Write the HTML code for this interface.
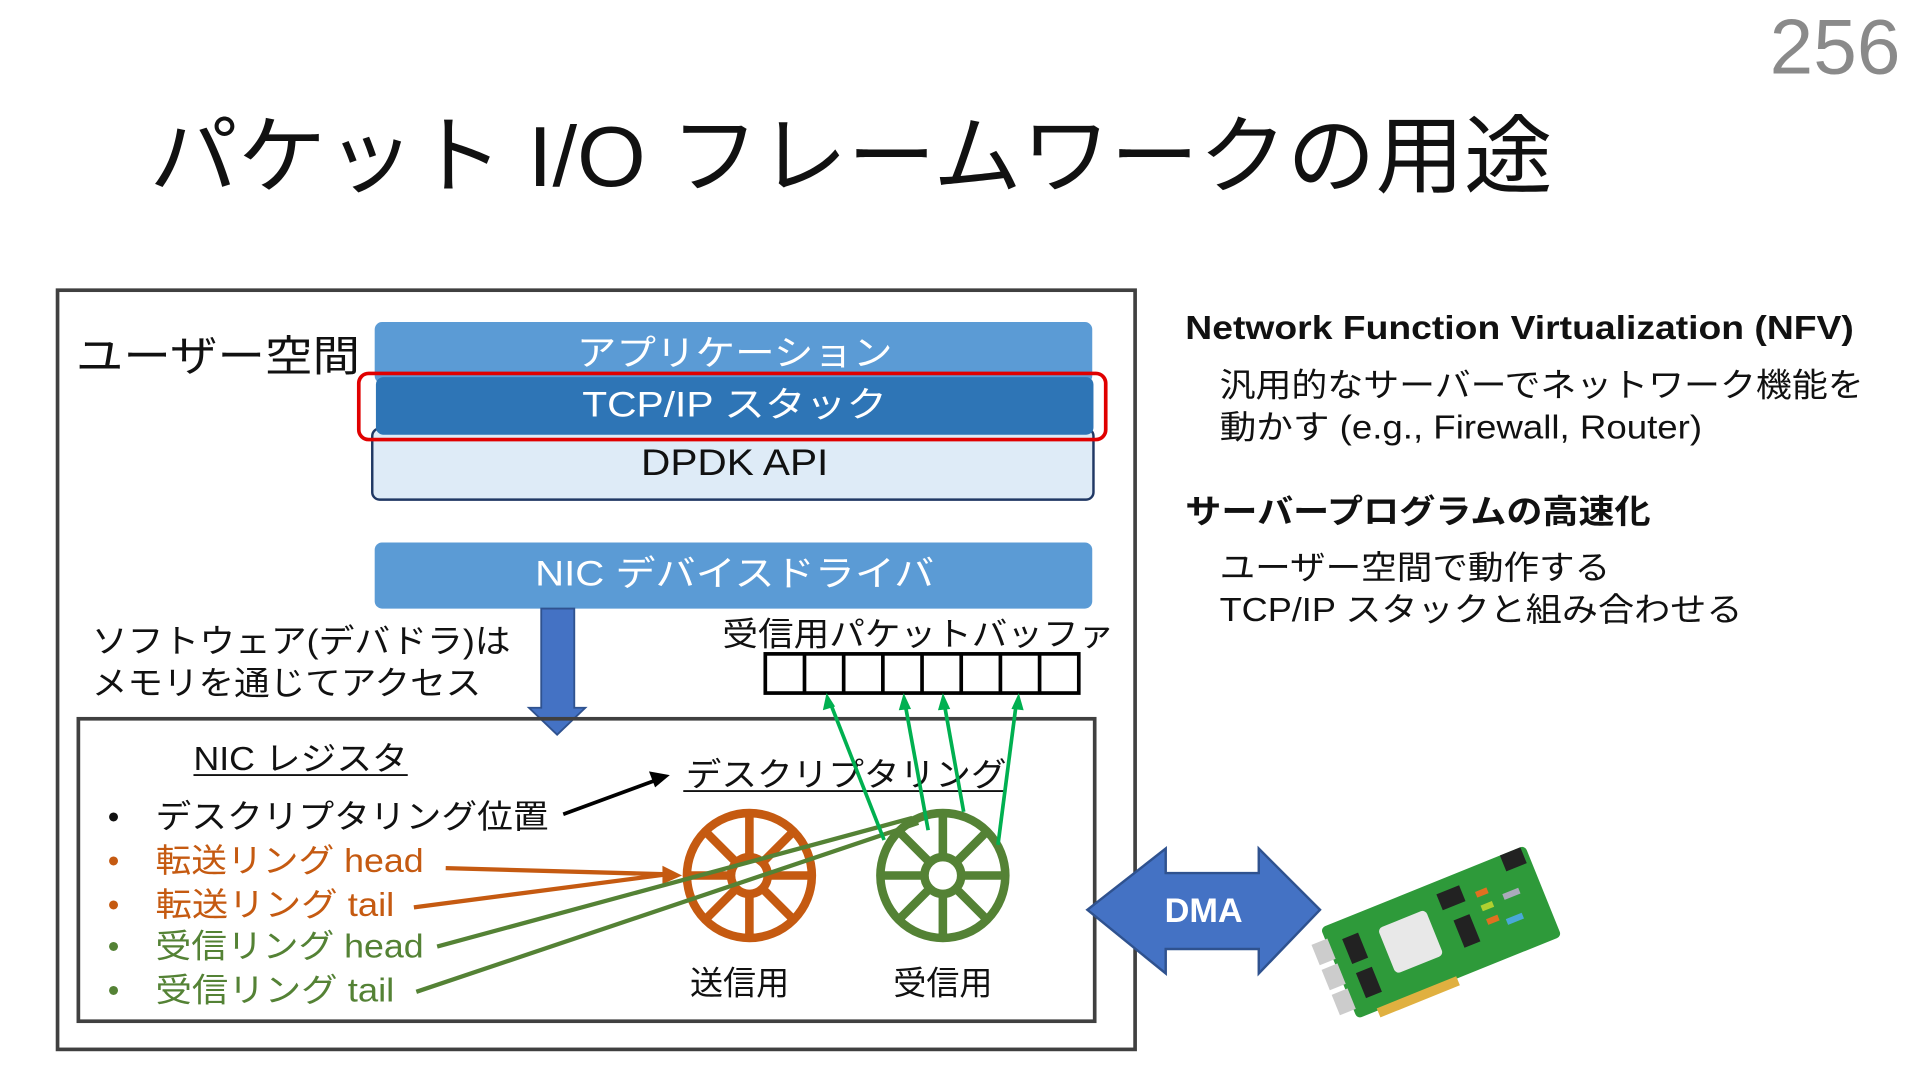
<!DOCTYPE html>
<html><head><meta charset="utf-8"><style>
html,body{margin:0;padding:0;background:#fff;}
svg{display:block;}
text{font-family:"Liberation Sans","Noto Sans CJK JP",sans-serif;}
</style></head><body>
<svg width="1920" height="1080" viewBox="0 0 1568 882" xmlns="http://www.w3.org/2000/svg">
<rect width="1568" height="882" fill="#fff"/>
<text x="1552" y="60" font-size="64" fill="#8a8a8a" text-anchor="end">256</text>
<text x="122" y="152" font-size="70" fill="#111" textLength="1146" lengthAdjust="spacingAndGlyphs">パケット I/O フレームワークの用途</text>

<rect x="47" y="237" width="880" height="620" fill="none" stroke="#404040" stroke-width="3"/>
<text x="62" y="303" font-size="35" fill="#111" textLength="232" lengthAdjust="spacingAndGlyphs">ユーザー空間</text>

<rect x="306" y="263" width="586" height="50" rx="6" fill="#5b9bd5"/>
<text x="600" y="298" font-size="29" fill="#fff" text-anchor="middle" textLength="258" lengthAdjust="spacingAndGlyphs">アプリケーション</text>
<rect x="304" y="350" width="589" height="58" rx="6" fill="#deebf7" stroke="#203864" stroke-width="2"/>
<rect x="307" y="308" width="586" height="47" rx="6" fill="#2e75b6"/>
<text x="600" y="340" font-size="29" fill="#fff" text-anchor="middle" textLength="249" lengthAdjust="spacingAndGlyphs">TCP/IP スタック</text>
<rect x="293" y="305" width="610" height="54" rx="8" fill="none" stroke="#e00000" stroke-width="3"/>
<text x="600" y="388" font-size="30" fill="#111" text-anchor="middle" textLength="153" lengthAdjust="spacingAndGlyphs">DPDK API</text>

<rect x="306" y="443" width="586" height="54" rx="6" fill="#5b9bd5"/>
<text x="600" y="478" font-size="29" fill="#fff" text-anchor="middle" textLength="326" lengthAdjust="spacingAndGlyphs">NIC デバイスドライバ</text>

<polygon points="442,497 469,497 469,578 478,578 455,600 432,578 442,578" fill="#4472c4" stroke="#2f528f" stroke-width="1.5"/>

<text x="75" y="533" font-size="27" fill="#111" textLength="342" lengthAdjust="spacingAndGlyphs">ソフトウェア(デバドラ)は</text>
<text x="75" y="567" font-size="27" fill="#111" textLength="318" lengthAdjust="spacingAndGlyphs">メモリを通じてアクセス</text>
<text x="590" y="527" font-size="27" fill="#111" textLength="320" lengthAdjust="spacingAndGlyphs">受信用パケットバッファ</text>

<g fill="none" stroke="#000" stroke-width="3">
<rect x="625" y="534" width="256" height="32"/>
<line x1="657" y1="534" x2="657" y2="566"/><line x1="689" y1="534" x2="689" y2="566"/>
<line x1="721" y1="534" x2="721" y2="566"/><line x1="753" y1="534" x2="753" y2="566"/>
<line x1="785" y1="534" x2="785" y2="566"/><line x1="817" y1="534" x2="817" y2="566"/>
<line x1="849" y1="534" x2="849" y2="566"/>
</g>

<rect x="64" y="587" width="830" height="247" fill="none" stroke="#404040" stroke-width="3"/>
<text x="158" y="629" font-size="27" fill="#111" textLength="175" lengthAdjust="spacingAndGlyphs">NIC レジスタ</text>
<line x1="158" y1="633" x2="333" y2="633" stroke="#111" stroke-width="1.5"/>
<g font-size="27">
<text x="88" y="676" fill="#111">•</text><text x="127" y="676" fill="#111" textLength="321" lengthAdjust="spacingAndGlyphs">デスクリプタリング位置</text>
<text x="88" y="712" fill="#c55a11">•</text><text x="127" y="712" fill="#c55a11" textLength="219" lengthAdjust="spacingAndGlyphs">転送リング head</text>
<text x="88" y="748" fill="#c55a11">•</text><text x="127" y="748" fill="#c55a11" textLength="195" lengthAdjust="spacingAndGlyphs">転送リング tail</text>
<text x="88" y="782" fill="#548235">•</text><text x="127" y="782" fill="#548235" textLength="219" lengthAdjust="spacingAndGlyphs">受信リング head</text>
<text x="88" y="818" fill="#548235">•</text><text x="127" y="818" fill="#548235" textLength="195" lengthAdjust="spacingAndGlyphs">受信リング tail</text>
</g>
<line x1="460" y1="665" x2="536" y2="637" stroke="#000" stroke-width="3"/>
<polygon points="547,633 530,630 535,643" fill="#000"/>
<text x="560" y="642" font-size="27" fill="#111" textLength="262" lengthAdjust="spacingAndGlyphs">デスクリプタリング</text>
<line x1="558" y1="646" x2="822" y2="646" stroke="#111" stroke-width="1.5"/>

<g stroke="#c55a11" stroke-width="7" fill="none">
<circle cx="612" cy="715" r="51"/><circle cx="612" cy="715" r="15"/>
<line x1="627" y1="715" x2="662" y2="715"/><line x1="597" y1="715" x2="562" y2="715"/>
<line x1="612" y1="700" x2="612" y2="665"/><line x1="612" y1="730" x2="612" y2="765"/>
<line x1="623" y1="704" x2="647" y2="680"/><line x1="601" y1="726" x2="577" y2="750"/>
<line x1="601" y1="704" x2="577" y2="680"/><line x1="623" y1="726" x2="647" y2="750"/>
</g>
<g stroke="#548235" stroke-width="7" fill="none">
<circle cx="770" cy="715" r="51"/><circle cx="770" cy="715" r="15"/>
<line x1="785" y1="715" x2="820" y2="715"/><line x1="755" y1="715" x2="720" y2="715"/>
<line x1="770" y1="700" x2="770" y2="665"/><line x1="770" y1="730" x2="770" y2="765"/>
<line x1="781" y1="704" x2="805" y2="680"/><line x1="759" y1="726" x2="735" y2="750"/>
<line x1="759" y1="704" x2="735" y2="680"/><line x1="781" y1="726" x2="805" y2="750"/>
</g>
<text x="604" y="812" font-size="27" fill="#111" text-anchor="middle">送信用</text>
<text x="770" y="812" font-size="27" fill="#111" text-anchor="middle">受信用</text>

<g stroke="#c55a11" stroke-width="3.5">
<line x1="364" y1="709" x2="545" y2="714"/>
<line x1="338" y1="741" x2="545" y2="714"/>
</g>
<polygon points="557,715 541,707 541,722" fill="#c55a11"/>
<g stroke="#548235" stroke-width="3.5">
<line x1="357" y1="773" x2="745" y2="668"/>
<line x1="340" y1="810" x2="750" y2="672"/>
</g>
<g stroke="#00b050" stroke-width="3">
<line x1="722" y1="686" x2="678" y2="574"/>
<line x1="758" y1="678" x2="739" y2="574"/>
<line x1="787" y1="663" x2="771" y2="574"/>
<line x1="815" y1="690" x2="830" y2="574"/>
</g>
<g fill="#00b050">
<polygon points="675,566 672,580 682,577"/>
<polygon points="738,566 734,580 744,579"/>
<polygon points="770,566 766,580 776,579"/>
<polygon points="832,566 826,579 836,580"/>
</g>

<polygon points="888,743 952,693 952,713 1028,713 1028,693 1078,743 1028,795 1028,775 952,775 952,795" fill="#4472c4" stroke="#2f528f" stroke-width="2"/>
<text x="983" y="753" font-size="28" font-weight="bold" fill="#fff" text-anchor="middle">DMA</text>

<g transform="translate(1175,762) rotate(-22)">
<rect x="-88" y="-40" width="180" height="80" rx="4" fill="#2e9a3a"/>
<rect x="-70" y="38" width="70" height="8" fill="#e0b040"/>
<rect x="-100" y="-30" width="14" height="18" fill="#ccc"/>
<rect x="-100" y="-8" width="14" height="18" fill="#ccc"/>
<rect x="-100" y="14" width="14" height="18" fill="#ccc"/>
<rect x="-45" y="-22" width="42" height="40" rx="4" fill="#e8e8e8"/>
<rect x="-75" y="-25" width="14" height="22" fill="#222"/>
<rect x="-75" y="5" width="14" height="22" fill="#222"/>
<rect x="10" y="-30" width="20" height="14" fill="#222"/>
<rect x="15" y="-5" width="14" height="24" fill="#222"/>
<rect x="70" y="-40" width="18" height="14" fill="#222"/>
<rect x="40" y="-20" width="10" height="5" fill="#e07020"/>
<rect x="40" y="-8" width="10" height="5" fill="#b0d030"/>
<rect x="40" y="4" width="10" height="5" fill="#e07020"/>
<rect x="55" y="10" width="14" height="5" fill="#4aa8d8"/>
<rect x="60" y="-10" width="14" height="5" fill="#aab"/>
</g>

<text x="968" y="277" font-size="27" font-weight="bold" fill="#111" textLength="546" lengthAdjust="spacingAndGlyphs">Network Function Virtualization (NFV)</text>
<text x="996" y="324" font-size="27" fill="#111" textLength="526" lengthAdjust="spacingAndGlyphs">汎用的なサーバーでネットワーク機能を</text>
<text x="996" y="358" font-size="27" fill="#111" textLength="394" lengthAdjust="spacingAndGlyphs">動かす (e.g., Firewall, Router)</text>
<text x="968" y="427" font-size="27" font-weight="bold" fill="#111" textLength="380" lengthAdjust="spacingAndGlyphs">サーバープログラムの高速化</text>
<text x="996" y="473" font-size="27" fill="#111" textLength="319" lengthAdjust="spacingAndGlyphs">ユーザー空間で動作する</text>
<text x="996" y="507" font-size="27" fill="#111" textLength="427" lengthAdjust="spacingAndGlyphs">TCP/IP スタックと組み合わせる</text>
</svg>
</body></html>
